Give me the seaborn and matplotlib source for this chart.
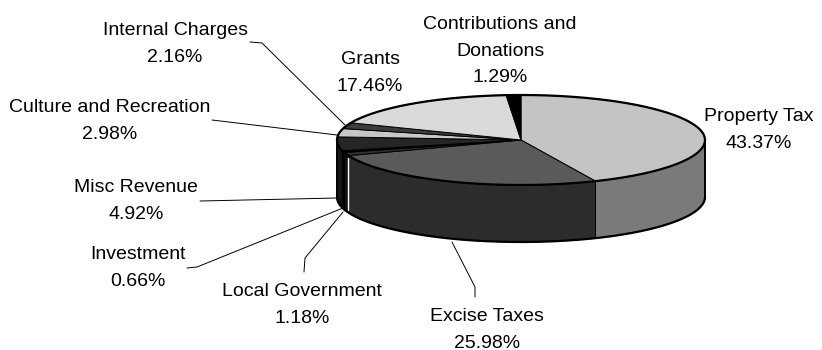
import numpy as np
import matplotlib
matplotlib.use("Agg")
import matplotlib.pyplot as plt
import seaborn as sns
from matplotlib.patches import Polygon

# ---- data ----
categories = ["Property Tax", "Excise Taxes", "Local Government", "Investment",
              "Misc Revenue", "Culture and Recreation", "Internal Charges",
              "Grants", "Contributions and\nDonations"]
shares = [43.37, 25.98, 1.18, 0.66, 4.92, 2.98, 2.16, 17.46, 1.29]

# ---- style ----
top_colors = ["#c4c4c4", "#5a5a5a", "#303030", "#000000", "#262626",
              "#c8c8c8", "#3c3c3c", "#dadada", "#000000"]
side_colors = ["#7a7a7a", "#2c2c2c", "#101010", "#000000", "#161616",
               "#8a8a8a", "#222222", "#9a9a9a", "#000000"]
label_pos = [(759, 130), (487, 330), (302, 305), (138, 268), (136, 201),
             (110, 121), (175, 44), (370, 73), (500, 51)]
leaders = {
    "Internal Charges": [(250, 42), (262, 43), (345, 125)],
    "Culture and Recreation": [(212, 120), (337, 135)],
    "Misc Revenue": [(200, 201), (337, 198)],
    "Investment": [(187, 268), (197, 267), (343, 208)],
    "Local Government": [(304, 272), (305, 258), (343, 212)],
    "Excise Taxes": [(475, 297), (475, 287), (452, 242)],
}

sns.set_style("white")
plt.rcParams['font.family'] = ['Liberation Sans', 'DejaVu Sans']

fig = plt.figure(figsize=(8.22, 3.5), dpi=100)
ax = fig.add_axes([0, 0, 1, 1])
ax.set_xlim(0, 822)
ax.set_ylim(350, 0)
ax.axis('off')

cx, cy, a, b, depth = 521, 140, 184, 45, 57
bounds = np.deg2rad(np.concatenate([[0], np.cumsum(shares)]) / 100 * 360)


def arc(t0, t1, n=120):
    th = np.linspace(t0, t1, max(3, int(n * (t1 - t0) / np.pi) + 3))
    return cx + a * np.sin(th), cy - b * np.cos(th)

# side walls (front half only)
for i in range(len(shares)):
    t0, t1 = bounds[i], bounds[i + 1]
    s0, s1 = max(t0, np.pi / 2), min(t1, 3 * np.pi / 2)
    if s1 <= s0:
        continue
    x, y = arc(s0, s1)
    pts = np.column_stack([np.concatenate([x, x[::-1]]),
                           np.concatenate([y, y[::-1] + depth])])
    ax.add_patch(Polygon(pts, closed=True, facecolor=side_colors[i],
                         edgecolor="black", lw=0.7, zorder=2))

# white highlight edge between Excise Taxes and Local Government walls
tb = bounds[2]
ax.plot([cx + a * np.sin(tb)] * 2,
        [cy - b * np.cos(tb) + 2, cy - b * np.cos(tb) + depth - 3],
        color="white", lw=1.0, zorder=2.5)

# top faces
for i in range(len(shares)):
    x, y = arc(bounds[i], bounds[i + 1])
    pts = np.column_stack([np.concatenate([[cx], x]), np.concatenate([[cy], y])])
    ax.add_patch(Polygon(pts, closed=True, facecolor=top_colors[i],
                         edgecolor="black", lw=0.7, zorder=3))

# outlines
xe, ye = arc(0, 2 * np.pi, 400)
ax.plot(xe, ye, color="black", lw=1.6, zorder=4)
xf, yf = arc(np.pi / 2, 3 * np.pi / 2, 300)
ax.plot(xf, yf + depth, color="black", lw=1.6, zorder=4)
ax.plot([cx + a, cx + a], [cy, cy + depth], color="black", lw=1.4, zorder=4)
ax.plot([cx - a, cx - a], [cy, cy + depth], color="black", lw=1.4, zorder=4)

# labels
for cat, val, (lx, ly) in zip(categories, shares, label_pos):
    ax.text(lx, ly, f"{cat}\n{val:.2f}%", ha="center", va="center",
            fontsize=14, linespacing=1.7, color="black", zorder=5)
    if cat in leaders:
        p = np.array(leaders[cat])
        ax.plot(p[:, 0], p[:, 1], color="black", lw=0.7, zorder=5)

fig.savefig("out.png", dpi=100, facecolor="white")
